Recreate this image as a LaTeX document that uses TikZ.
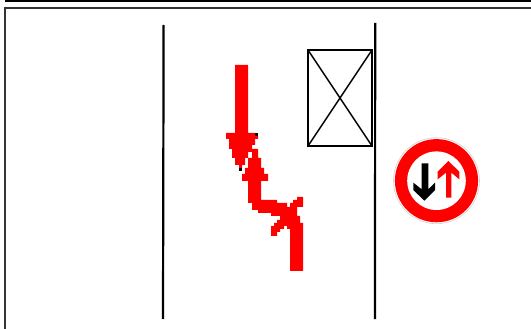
\documentclass[tikz,border=0pt]{standalone}
\definecolor{signred}{RGB}{255,0,0}
\tikzset{
  frameline/.style={draw=black,line width=2.5pt},
  roadline/.style={draw=black,line width=2.2pt},
  boxline/.style={draw=black,line width=2pt},
  redpoly/.style={fill=signred,draw=none},
  zoomA/.style={shift={(210,50)},x=0.33333pt,y=-0.33333pt},
  zoomB/.style={shift={(385,130)},x=0.33333pt,y=-0.33333pt}
}
\begin{document}
\begin{tikzpicture}[x=1pt,y=-1pt]
\useasboundingbox (0,0) rectangle (531,329);
\fill[white] (0,0) rectangle (531,329);
% frame
\draw[frameline] (5,1.2) -- (531,1.2);
\draw[frameline,line width=2.3pt,draw=black!80] (5.3,329) -- (5.3,7.8) -- (531,7.8);
% road
\draw[roadline] (163.6,25) -- (163,319);
\draw[roadline] (375.2,23) -- (375,319);
% crossed box
\draw[boxline] (308,50) rectangle (372,146);
\draw[line width=1.5pt] (308,50) -- (372,146);
\draw[line width=1.5pt] (372,50) -- (308,146);
% pixels and red path
\begin{scope}[zoomA]
\fill[black] (135,249) rectangle (144,258);
\fill[black] (87,354) rectangle (96,363);
\fill[redpoly] (75,45) -- (114,45) -- (114,249) -- (135,249) -- (135,258) -- (144,258) -- (144,267) -- (135,267) -- (135,285) -- (126,285) -- (126,306) -- (114,306) -- (114,324) -- (105,324) -- (105,345) -- (96,345) -- (96,354) -- (87,354) -- (87,345) -- (75,345) -- (75,324) -- (66,324) -- (66,297) -- (57,297) -- (57,267) -- (48,267) -- (48,249) -- (75,249) -- cycle;
\fill[redpoly] (240,663) -- (279,663) -- (279,519) -- (270,519) -- (270,498) -- (261,498) -- (261,471) -- (279,471) -- (279,441) -- (261,441) -- (261,450) -- (249,450) -- (249,459) -- (240,459) -- (240,471) -- (231,471) -- (231,459) -- (201,459) -- (201,450) -- (153,450) -- (153,393) -- (174,393) -- (174,372) -- (162,372) -- (162,354) -- (153,354) -- (153,324) -- (144,324) -- (144,297) -- (126,297) -- (126,324) -- (114,324) -- (114,354) -- (105,354) -- (105,372) -- (96,372) -- (96,393) -- (114,393) -- (114,459) -- (126,459) -- (126,480) -- (144,480) -- (144,489) -- (183,489) -- (183,498) -- (210,498) -- (210,510) -- (201,510) -- (201,519) -- (192,519) -- (192,528) -- (183,528) -- (183,558) -- (201,558) -- (201,546) -- (210,546) -- (210,537) -- (222,537) -- (222,528) -- (231,528) -- (231,537) -- (240,537) -- cycle;
\end{scope}
% sign
\draw[black!18,line width=0.6pt] (436.5,180.7) circle (43);
\fill[signred] (436.5,180.7) circle (41.6);
\fill[white] (436.5,180.7) circle (29.3);
\begin{scope}[zoomB]
\fill[black] (110,100) -- (130,100) -- (130,178) -- (150,158) -- (150,180) -- (118,212) -- (85,180) -- (85,158) -- (110,178) -- cycle;
\fill[redpoly] (183,203) -- (199,203) -- (199,128) -- (223,148) -- (223,125) -- (190,93) -- (158,125) -- (158,148) -- (183,128) -- cycle;
\end{scope}
\end{tikzpicture}
\end{document}
